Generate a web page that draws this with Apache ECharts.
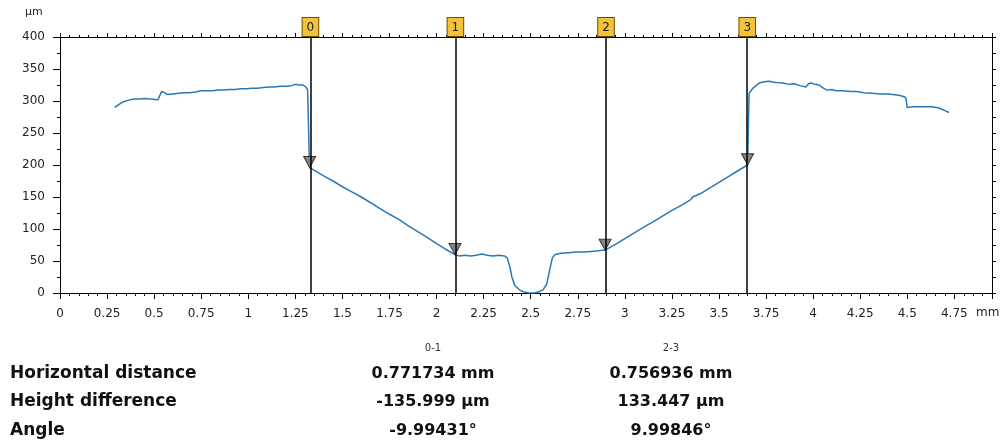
<!doctype html>
<html>
<head>
<meta charset="utf-8">
<title>Profile</title>
<script src="https://cdn.jsdelivr.net/npm/echarts@6.0.0/dist/echarts.min.js"></script>
<style type="text/css">
	html, body{margin:0; padding:0; background:#fff;}
	#chart{width:1005px; height:447px;}
</style>
</head>
<body>
<div id="chart"></div>
<script type="text/javascript">
// profile (mm / µm)
var profileX = [
	0.29,0.31,0.33,0.36,0.39,0.42,0.45,0.48,0.52,0.53,0.54,0.555,0.57,0.60,0.63,0.66,0.69,0.72,0.75,0.78,0.81,0.84,0.87,0.90,0.93,0.96,0.99,1.02,1.05,1.08,1.11,1.14,1.17,1.20,1.23,1.25,1.27,1.29,1.305,1.315,1.320,1.324,1.326,
	1.36,1.40,1.45,1.50,1.55,1.60,1.65,1.70,1.75,1.80,1.85,1.90,1.95,2.00,2.05,2.098,
	2.12,2.15,2.18,2.21,2.24,2.27,2.30,2.33,2.36,2.375,2.39,2.40,2.415,2.44,2.46,2.49,2.52,2.545,2.565,2.585,2.60,2.615,2.63,2.66,2.70,2.74,2.78,2.82,2.86,2.895,
	2.95,3.00,3.05,3.10,3.15,3.20,3.25,3.30,3.35,3.36,3.37,3.40,3.45,3.50,3.55,3.60,3.652,
	3.656,3.66,3.68,3.714,3.74,3.767,3.80,3.84,3.873,3.90,3.93,3.963,3.975,3.989,4.01,4.032,4.05,4.074,4.10,4.122,4.16,4.20,4.228,4.27,4.313,4.36,4.40,4.456,4.48,4.493,4.499,4.53,4.57,4.60,4.631,4.668,4.70,4.721
];
var profileY = [
	290,294,298,301,303,303,304,303,302,304,315,313,310,311,312,313,313,314,316,316,316,317,317,318,318,319,319,320,320,321,322,322,323,323,324,326,325,325,322,318,260,205,196,
	190,183,175,166,158,150,141,132,123,115,105,96,87,77,68,60,
	58,59,58,59,61,59,58,59,58,55,40,25,12,5,2,0,0,2,5,14,35,55,60,62,63,64,64,65,66,67,
	76,85,94,103,111,120,129,137,146,150,148,155,164,173,182,191,200,
	260,312,320,328,330,331,329,328,326,327,324,322,327,328,326,325,321,317,318,316,316,315,315,313,312,311,311,309,307,305,290,291,291,291,291,289,285,282
];
// cursors
var cursorNames = ['0', '1', '2', '3'];
var cursorX = [1.326, 2.098, 2.895, 3.652];
var cursorY = [196, 60, 67, 200.4];
// table
var pairNames = ['0-1', '2-3'];
var rowNames = ['Horizontal distance', 'Height difference', 'Angle'];
var pair01 = ['0.771734 mm', '-135.999 µm', '-9.99431°'];
var pair23 = ['0.756936 mm', '133.447 µm', '9.99846°'];

var FONT = 'DejaVu Sans';
var chart = echarts.init(document.getElementById('chart'));

var profile = profileX.map(function(x, i){ return [x, profileY[i]]; });
var cursors = cursorX.map(function(x, i){ return [x, cursorY[i]]; });

function xLabel(v){
	var k = v / 0.25;
	if (Math.abs(k - Math.round(k)) > 1e-6) return '';
	return String(Math.round(v * 100) / 100);
}

var graphics = [
	{type:'text', left:25, top:7, style:{text:'µm', font:'11px ' + FONT, fill:'#222'}},
	{type:'text', left:976, top:307, style:{text:'mm', font:'12px ' + FONT, fill:'#222'}}
];
var colX = [433, 671];
var rowY = [374, 402, 431];
pairNames.forEach(function(n, j){
	graphics.push({type:'text', x:colX[j], y:348, style:{text:n, font:'10px ' + FONT, fill:'#333', align:'center', verticalAlign:'middle'}});
});
rowNames.forEach(function(n, i){
	graphics.push({type:'text', x:10, y:rowY[i], style:{text:n, font:'bold 17px ' + FONT, fill:'#111', align:'left', verticalAlign:'middle'}});
	graphics.push({type:'text', x:colX[0], y:rowY[i], style:{text:pair01[i], font:'bold 16px ' + FONT, fill:'#111', align:'center', verticalAlign:'middle'}});
	graphics.push({type:'text', x:colX[1], y:rowY[i], style:{text:pair23[i], font:'bold 16px ' + FONT, fill:'#111', align:'center', verticalAlign:'middle'}});
});

var option = {
	animation: false,
	grid: {left: 60, right: 13, top: 37, bottom: 154},
	xAxis: [
		{
			type: 'value', position: 'bottom', min: 0, max: 4.95, interval: 0.25,
			axisLine: {onZero: false, lineStyle: {color: '#000', width: 1}},
			axisTick: {length: 6, lineStyle: {color: '#000'}},
			minorTick: {show: true, splitNumber: 5, length: 3, lineStyle: {color: '#000'}},
			splitLine: {show: false},
			axisLabel: {margin: 15, fontSize: 12, fontFamily: FONT, color: '#222', formatter: xLabel}
		},
		{
			type: 'value', position: 'top', min: 0, max: 4.95, interval: 0.25,
			axisLine: {onZero: false, lineStyle: {color: '#000', width: 1}},
			axisTick: {length: 4, lineStyle: {color: '#000'}},
			minorTick: {show: true, splitNumber: 5, length: 2, lineStyle: {color: '#000'}},
			splitLine: {show: false},
			axisLabel: {show: false}
		}
	],
	yAxis: [
		{
			type: 'value', position: 'left', min: 0, max: 400, interval: 50,
			axisLine: {show: true, onZero: false, lineStyle: {color: '#000', width: 1}},
			axisTick: {show: true, length: 7, lineStyle: {color: '#000'}},
			minorTick: {show: true, splitNumber: 2, length: 3, lineStyle: {color: '#000'}},
			splitLine: {show: false},
			axisLabel: {margin: 15, fontSize: 12, fontFamily: FONT, color: '#222'}
		},
		{
			type: 'value', position: 'right', min: 0, max: 400, interval: 25,
			axisLine: {show: true, onZero: false, lineStyle: {color: '#000', width: 1}},
			axisTick: {show: true, length: 4, lineStyle: {color: '#000'}},
			splitLine: {show: false},
			axisLabel: {show: false}
		}
	],
	graphic: graphics,
	series: [
		{
			name: 'profile', type: 'line', data: profile,
			showSymbol: false, symbol: 'none', silent: true,
			lineStyle: {color: '#2a78b6', width: 1.5},
			z: 2
		},
		{
			name: 'cursors', type: 'scatter', data: cursors,
			symbol: 'triangle', symbolRotate: 180, symbolSize: [12, 11], symbolOffset: [0, -5.5],
			itemStyle: {color: '#858585', borderColor: '#333', borderWidth: 1, opacity: 1},
			silent: true, z: 4,
			markLine: {
				silent: true, symbol: ['none', 'none'], animation: false,
				lineStyle: {color: '#000', width: 1.5, type: 'solid'},
				label: {
					show: true, position: 'end', distance: 1,
					formatter: function(p){ return p.name; },
					fontSize: 12, fontFamily: FONT, color: '#222',
					backgroundColor: '#f3c13a', borderColor: '#6b5000', borderWidth: 1,
					padding: [4, 4, 2, 4]
				},
				emphasis: {disabled: true},
				data: cursorX.map(function(x, i){ return {name: cursorNames[i], xAxis: x}; })
			}
		}
	]
};
chart.setOption(option);
</script>
</body>
</html>
